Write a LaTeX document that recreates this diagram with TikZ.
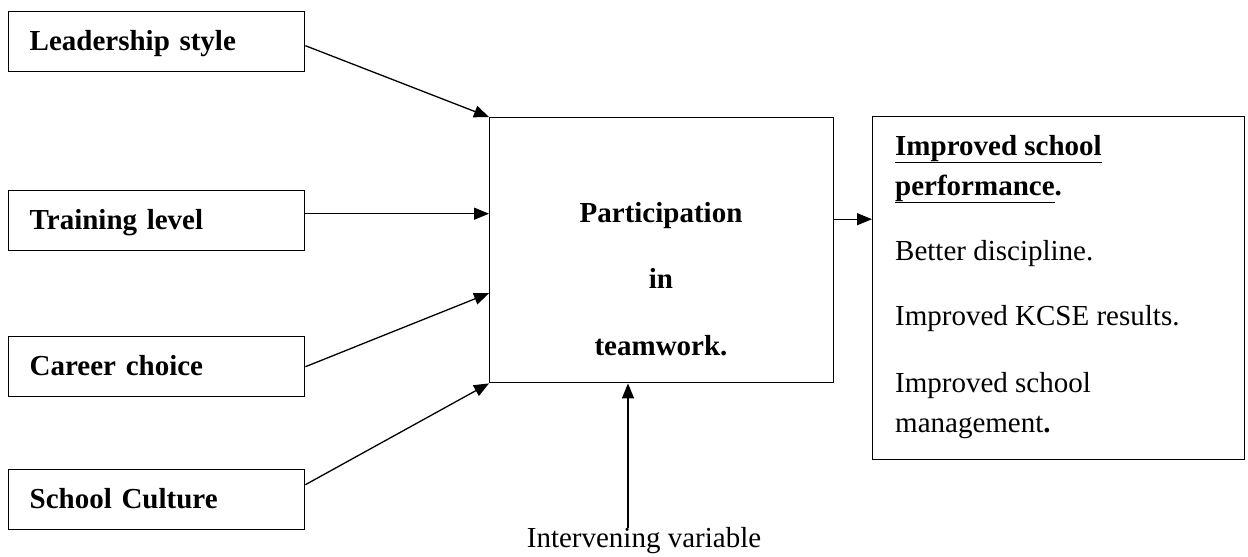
\documentclass[tikz,border=0pt]{standalone}
\usepackage{fontspec}
\setmainfont{Liberation Serif}
\usetikzlibrary{arrows.meta}
\begin{document}
\begin{tikzpicture}[x=1pt,y=-1pt,
  every node/.style={font=\fontsize{29}{35}\selectfont},
  lbox/.style={draw,line width=1.4pt,anchor=north west,inner xsep=21pt,inner ysep=0pt,
    text width=254pt,minimum height=60pt,text height=22pt,text depth=4pt,align=left,
    font=\fontsize{29}{35}\selectfont\bfseries},
  bigbox/.style={draw,line width=1.4pt,anchor=north west,inner sep=0pt},
  txt/.style={inner sep=0pt},
  arr/.style={line width=1.3pt,-{Triangle[length=15pt,width=12pt]}}]
\useasboundingbox (0,0) rectangle (1248,557);
% left boxes
\node[lbox] (lead) at (8,11) {Leadership style};
\node[lbox] (train) at (8,190) {Training level};
\node[lbox] (career) at (8,336) {Career choice};
\node[lbox] (culture) at (8,469) {School Culture};
% centre box
\node[bigbox,minimum width=344pt,minimum height=265pt] (center) at (489,117) {};
\node[txt,anchor=base,font=\fontsize{29}{35}\selectfont\bfseries] (c1) at (661,222) {Participation};
\node[txt,anchor=base,font=\fontsize{29}{35}\selectfont\bfseries] (c2) at (661,288) {in};
\node[txt,anchor=base,font=\fontsize{29}{35}\selectfont\bfseries] (c3) at (661,355) {teamwork.};
% right box
\node[bigbox,minimum width=372pt,minimum height=343pt] (out) at (872,116) {};
\node[txt,anchor=base west] (o1) at (895,155) {\bfseries\underline{Improved school}};
\node[txt,anchor=base west] (o2) at (895,195) {\bfseries\underline{performance}.};
\node[txt,anchor=base west] (o3) at (895,260) {Better discipline.};
\node[txt,anchor=base west] (o4) at (895,325) {Improved KCSE results.};
\node[txt,anchor=base west] (o5) at (895,392) {Improved school};
\node[txt,anchor=base west] (o6) at (895,432) {management{\bfseries .}};
% intervening variable
\node[txt,anchor=base] (iv) at (644,547) {Intervening variable};
\coordinate (ivtop) at (628,528);
% connectors
\draw[arr] ([yshift=-4pt]lead.east) -- (center.north west);
\draw[arr] ([yshift=7pt]train.east) -- ([yshift=7pt]train.east -| center.west);
\draw[arr] ([yshift=0pt]career.east) -- ([yshift=-43pt]center.west);
\draw[arr] ([yshift=15pt]culture.east) -- (center.south west);
\draw[arr] (ivtop) -- (ivtop |- center.south);
\draw[arr] ([yshift=31pt]center.east) -- ([yshift=31pt]center.east -| out.west);
\end{tikzpicture}
\end{document}
